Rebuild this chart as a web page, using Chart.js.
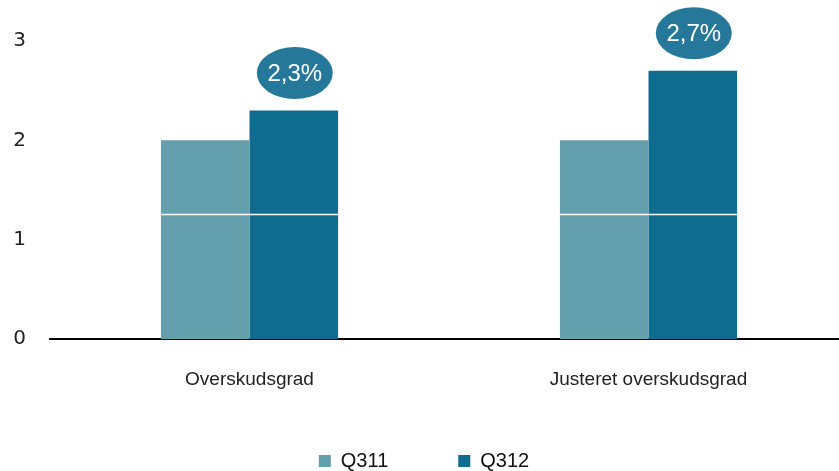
<!DOCTYPE html>
<html>
<head>
<meta charset="utf-8">
<script src="https://cdn.jsdelivr.net/npm/chart.js@4"></script>
<style>
  html, body { margin: 0; padding: 0; background: #fff; overflow: hidden; }
  #wrap { width: 848px; height: 471px; }
</style>
</head>
<body>
<div id="wrap"><canvas id="ctx"></canvas></div>
<script>
var categories = ["Overskudsgrad", "Justeret overskudsgrad"];
var q311 = [2.0, 2.0];
var q312 = [2.3, 2.7];
var seriesNames = ["Q311", "Q312"];
var yTicks = [0, 1, 2, 3];
var breakLine = 1.26;

// ellipse bubbles with the Q312 value above each bar
var bubbles = {
    id: 'bubbles',
    afterDatasetsDraw: function (chart) {
        var c = chart.ctx;
        var ya = chart.scales.y;
        // thin white line across the bars
        var yy = Math.round(ya.getPixelForValue(breakLine)) + 0.5;
        c.save();
        c.strokeStyle = '#ffffff';
        c.lineWidth = 1.5;
        c.beginPath();
        c.moveTo(chart.chartArea.left, yy);
        c.lineTo(chart.chartArea.right, yy);
        c.stroke();

        var meta = chart.getDatasetMeta(1);
        meta.data.forEach(function (bar, i) {
            var cx = bar.x + 1;
            var cy = bar.y - 37.5;
            c.fillStyle = '#26789b';
            c.beginPath();
            c.ellipse(cx, cy, 38, 26, 0, 0, Math.PI * 2);
            c.fill();
            c.fillStyle = '#ffffff';
            c.font = '24px "Liberation Sans"';
            c.textAlign = 'center';
            c.textBaseline = 'middle';
            c.fillText(q312[i].toFixed(1).replace('.', ',') + '%', cx, cy + 1);
        });
        c.restore();
    }
};

var ctx = document.getElementById("ctx").getContext('2d');

var myChart = new Chart(ctx, {
    type: 'bar',
    data: {
        labels: categories,
        datasets: [{
            label: seriesNames[0],
            data: q311,
            backgroundColor: '#639fad',
            borderWidth: 0
        }, {
            label: seriesNames[1],
            data: q312,
            backgroundColor: '#0e6d8f',
            borderWidth: 0
        }]
    },
    options: {
        responsive: true,
        maintainAspectRatio: false,
        animation: false,
        datasets: {
            bar: { categoryPercentage: 0.444, barPercentage: 1.0 }
        },
        layout: { padding: { top: 41, right: 0, bottom: -10, left: 0 } },
        scales: {
            x: {
                grid: { display: false, drawTicks: false },
                border: { display: true, color: '#000', width: 2 },
                ticks: {
                    color: '#222',
                    padding: 29,
                    font: { family: 'Liberation Sans', size: 19 }
                },
                afterFit: function (s) { s.height = 102; }
            },
            y: {
                min: 0,
                max: 3,
                afterBuildTicks: function (s) {
                    s.ticks = yTicks.map(function (v) { return { value: v }; });
                },
                grid: { display: false, drawTicks: false },
                border: { display: false },
                ticks: {
                    color: '#222',
                    padding: 24,
                    font: { family: 'DejaVu Sans', size: 20 }
                },
                afterFit: function (s) { s.width = 50; }
            }
        },
        plugins: {
            tooltip: { enabled: false },
            legend: {
                position: 'bottom',
                labels: {
                    boxWidth: 12,
                    boxHeight: 12,
                    padding: 10,
                    color: '#111',
                    font: { family: 'Liberation Sans', size: 20 },
                    generateLabels: function (chart) {
                        var items = Chart.defaults.plugins.legend.labels.generateLabels(chart);
                        items[0].text = items[0].text + '\u2002\u2002\u2002\u2002\u2002\u2002';
                        return items;
                    }
                }
            }
        }
    },
    plugins: [bubbles]
});
</script>
</body>
</html>
